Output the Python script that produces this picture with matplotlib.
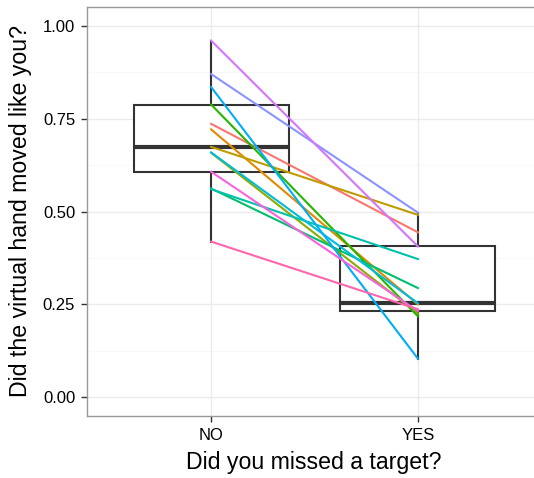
import matplotlib
matplotlib.use("Agg")
import matplotlib.pyplot as plt
import numpy as np

plt.rcParams['font.family'] = ['Liberation Sans', 'DejaVu Sans']

# per-participant answers, NO (no miss) vs YES (missed a target)
groups = ["NO", "YES"]
no_values = [0.736, 0.721, 0.674, 0.658, 0.788, 0.562, 0.560, 0.659, 0.835, 0.870, 0.960, 0.607, 0.419]
yes_values = [0.444, 0.250, 0.491, 0.225, 0.218, 0.294, 0.372, 0.253, 0.104, 0.497, 0.406, 0.232, 0.237]
colors = ["#F8766D", "#E18A00", "#BE9C00", "#8CAB00", "#24B700", "#00BE70", "#00C1AB",
          "#00BBDA", "#00ACFC", "#8B93FF", "#D575FE", "#F962DD", "#FF65AC"]

fig = plt.figure(figsize=(5.34, 4.78), dpi=100)
ax = fig.add_axes([0.163, 0.13, 0.852, 0.855])

x = np.arange(1, len(groups) + 1)

# grid like theme_bw
for v in np.arange(-0.125, 1.1, 0.25):
    ax.axhline(v, color="#F7F7F7", lw=0.6, zorder=0)
for v in np.arange(0, 1.01, 0.25):
    ax.axhline(v, color="#EBEBEB", lw=1.0, zorder=0)
for xi in x:
    ax.axvline(xi, color="#EBEBEB", lw=1.0, zorder=0)

ax.boxplot([no_values, yes_values], positions=x, widths=0.75, whis=1.5,
           patch_artist=True, showcaps=False, showfliers=False,
           boxprops=dict(facecolor="white", edgecolor="#333333", lw=1.5),
           whiskerprops=dict(color="#333333", lw=1.5),
           medianprops=dict(color="#333333", lw=3.0), zorder=2)

for a, b, c in zip(no_values, yes_values, colors):
    ax.plot(x, [a, b], color=c, lw=1.5, zorder=3)

ax.set_xlim(0.4, 2.6)
ax.set_ylim(-0.05, 1.05)
ax.set_xticks(x)
ax.set_xticklabels(groups)
ax.set_yticks([0, 0.25, 0.5, 0.75, 1.0])
ax.set_yticklabels(["0.00", "0.25", "0.50", "0.75", "1.00"])
ax.tick_params(labelsize=12, colors="#333333", length=4.5, width=1, labelcolor="black", pad=4)

for s in ax.spines.values():
    s.set_color("#999999")
    s.set_linewidth(1.0)
ax.spines['right'].set_visible(False)

fig.text(314 / 534, 1 - 462 / 478, "Did you missed a target?", fontsize=16.7,
         ha="center", va="center")
fig.text(21 / 534, 1 - 211 / 478, "Did the virtual hand moved like you?", fontsize=16.7,
         ha="center", va="center", rotation=90)

fig.savefig("out.png", dpi=100)
